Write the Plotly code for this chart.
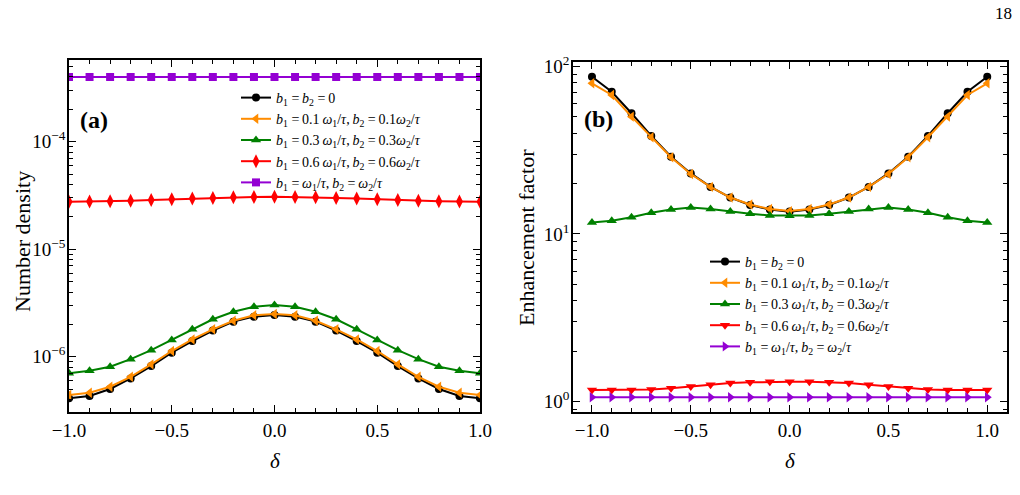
import plotly.graph_objects as go

delta = [-1.0, -0.9, -0.8, -0.7, -0.6, -0.5, -0.4, -0.3, -0.2, -0.1, 0.0,
         0.1, 0.2, 0.3, 0.4, 0.5, 0.6, 0.7, 0.8, 0.9, 1.0]

# Panel (a): number density
nd_b0 = [4.10e-7, 4.31e-7, 5.01e-7, 6.29e-7, 8.18e-7, 1.09e-6, 1.40e-6, 1.75e-6, 2.12e-6, 2.36e-6, 2.44e-6,
         2.36e-6, 2.12e-6, 1.75e-6, 1.40e-6, 1.09e-6, 8.18e-7, 6.29e-7, 5.01e-7, 4.31e-7, 4.10e-7]
nd_b01 = [4.40e-7, 4.63e-7, 5.26e-7, 6.51e-7, 8.50e-7, 1.13e-6, 1.45e-6, 1.80e-6, 2.16e-6, 2.43e-6, 2.50e-6,
          2.43e-6, 2.16e-6, 1.80e-6, 1.45e-6, 1.13e-6, 8.50e-7, 6.51e-7, 5.26e-7, 4.63e-7, 4.40e-7]
nd_b03 = [7.01e-7, 7.40e-7, 8.07e-7, 9.50e-7, 1.15e-6, 1.43e-6, 1.80e-6, 2.23e-6, 2.62e-6, 2.92e-6, 3.03e-6,
          2.92e-6, 2.62e-6, 2.23e-6, 1.80e-6, 1.43e-6, 1.15e-6, 9.50e-7, 8.07e-7, 7.40e-7, 7.01e-7]
nd_b06 = [2.77e-5, 2.78e-5, 2.80e-5, 2.83e-5, 2.87e-5, 2.91e-5, 2.96e-5, 3.00e-5, 3.04e-5, 3.06e-5, 3.07e-5,
          3.06e-5, 3.04e-5, 3.00e-5, 2.96e-5, 2.91e-5, 2.87e-5, 2.83e-5, 2.80e-5, 2.78e-5, 2.77e-5]
nd_b10 = [4.0e-4] * 21

# Panel (b): enhancement factor
ef_b0 = [86.9, 70.7, 52.6, 38.5, 28.9, 23.0, 19.1, 16.5, 14.9, 14.0, 13.6,
         14.0, 14.9, 16.5, 19.1, 23.0, 28.9, 38.5, 52.6, 70.7, 86.9]
ef_b01 = [79.4, 67.6, 50.2, 37.8, 28.7, 22.8, 19.1, 16.5, 15.0, 14.1, 13.7,
          14.1, 15.0, 16.5, 19.1, 22.8, 28.7, 37.8, 50.2, 67.6, 79.4]
ef_b03 = [11.7, 12.0, 12.6, 13.4, 14.0, 14.4, 14.1, 13.6, 13.2, 12.9, 12.85,
          12.9, 13.2, 13.6, 14.1, 14.4, 14.0, 13.4, 12.6, 12.0, 11.7]
ef_b06 = [1.17, 1.17, 1.17, 1.18, 1.20, 1.23, 1.26, 1.29, 1.30, 1.31, 1.31,
          1.31, 1.30, 1.29, 1.26, 1.23, 1.20, 1.18, 1.17, 1.17, 1.17]
ef_b10 = [1.06] * 21

x_ticks = [-1.0, -0.5, 0.0, 0.5, 1.0]
x_ticktext = ["−1.0", "−0.5", "0.0", "0.5", "1.0"]
ya_ticks = [1e-6, 1e-5, 1e-4]
ya_ticktext = ["10<sup>−6</sup>", "10<sup>−5</sup>", "10<sup>−4</sup>"]
yb_ticks = [1, 10, 100]
yb_ticktext = ["10<sup>0</sup>", "10<sup>1</sup>", "10<sup>2</sup>"]

S = "\u2009"  # thin space, to mimic math spacing
labels = [
    f"<i>b</i><sub>1</sub> ={S}<i>b</i><sub>2</sub> ={S}0",
    f"<i>b</i><sub>1</sub> ={S}0.1{S}<i>ω</i><sub>1</sub>/<i>τ</i>,{S}<i>b</i><sub>2</sub> ={S}0.1<i>ω</i><sub>2</sub>/<i>τ</i>",
    f"<i>b</i><sub>1</sub> ={S}0.3{S}<i>ω</i><sub>1</sub>/<i>τ</i>,{S}<i>b</i><sub>2</sub> ={S}0.3<i>ω</i><sub>2</sub>/<i>τ</i>",
    f"<i>b</i><sub>1</sub> ={S}0.6{S}<i>ω</i><sub>1</sub>/<i>τ</i>,{S}<i>b</i><sub>2</sub> ={S}0.6<i>ω</i><sub>2</sub>/<i>τ</i>",
    f"<i>b</i><sub>1</sub> ={S}<i>ω</i><sub>1</sub>/<i>τ</i>,{S}<i>b</i><sub>2</sub> ={S}<i>ω</i><sub>2</sub>/<i>τ</i>",
]
colors = ["black", "#ff8c00", "#008000", "#ff0000", "#9400d3"]
sym_a = ["circle", "triangle-left", "triangle-up", "diamond-tall", "square"]
sym_b = ["circle", "triangle-left", "triangle-up", "triangle-down", "triangle-right"]
msize_a = [8, 9, 9, 10, 8]
msize_b = [8, 9, 9, 9, 9]

FONT = "Liberation Serif, Times New Roman, DejaVu Serif, serif"
fig = go.Figure()

for i, ys in enumerate([nd_b0, nd_b01, nd_b03, nd_b06, nd_b10]):
    fig.add_trace(go.Scatter(
        x=delta, y=ys, mode="lines+markers", name=labels[i],
        line=dict(color=colors[i], width=2),
        marker=dict(symbol=sym_a[i], size=msize_a[i], color=colors[i]),
        xaxis="x", yaxis="y", legend="legend"))

for i, ys in enumerate([ef_b0, ef_b01, ef_b03, ef_b06, ef_b10]):
    fig.add_trace(go.Scatter(
        x=delta, y=ys, mode="lines+markers", name=labels[i],
        line=dict(color=colors[i], width=2),
        marker=dict(symbol=sym_b[i], size=msize_b[i], color=colors[i]),
        xaxis="x2", yaxis="y2", legend="legend2"))

axis_common = dict(showline=True, linecolor="black", linewidth=1.5, mirror="allticks",
                   ticks="inside", ticklen=7, tickwidth=1.2, tickcolor="black",
                   showgrid=False, zeroline=False, automargin=False,
                   tickfont=dict(family=FONT, size=19, color="black"))
minor_log = dict(ticks="inside", ticklen=4, tickcolor="black", tickwidth=1, dtick="D1")

xa = dict(axis_common, tickmode="array", tickvals=x_ticks, ticktext=x_ticktext,
          minor=dict(dtick=0.1, tick0=-1.0, ticks="inside", ticklen=4, tickcolor="black", tickwidth=1))


def ann(text, x, y, size, angle=0):
    return dict(text=text, x=x/1020, y=1-y/495, xref="paper", yref="paper",
                xanchor="center", yanchor="middle", textangle=angle,
                showarrow=False, font=dict(family=FONT, size=size, color="black"))


fig.update_layout(
    width=1020, height=495,
    margin=dict(l=0, r=0, t=0, b=0),
    paper_bgcolor="white", plot_bgcolor="white",
    font=dict(family=FONT, color="black"),
    xaxis=dict(xa, range=[-1.0, 1.0], domain=[69/1020, 480/1020], anchor="y"),
    yaxis=dict(axis_common, type="log", range=[-6.514, -3.24],
               tickmode="array", tickvals=ya_ticks, ticktext=ya_ticktext,
               ticklabelstandoff=-2,
               domain=[1-412/495, 1-60/495], anchor="x", minor=minor_log),
    xaxis2=dict(xa, range=[-1.096, 1.10], domain=[573/1020, 1007/1020], anchor="y2"),
    yaxis2=dict(axis_common, type="log", range=[-0.063, 2.027],
                tickmode="array", tickvals=yb_ticks, ticktext=yb_ticktext,
                ticklabelstandoff=-2,
                domain=[1-412/495, 1-62/495], anchor="x2", minor=minor_log),
    legend=dict(x=236/1020, y=1-82/495, xanchor="left", yanchor="top",
                bgcolor="rgba(0,0,0,0)", font=dict(family=FONT, size=14, color="black"),
                tracegroupgap=0, itemwidth=30),
    legend2=dict(x=705/1020, y=1-246/495, xanchor="left", yanchor="top",
                 bgcolor="rgba(0,0,0,0)", font=dict(family=FONT, size=14, color="black"),
                 tracegroupgap=0, itemwidth=30),
    annotations=[
        ann("<b>(a)</b>", 94, 120, 24),
        ann("<b>(b)</b>", 598, 119, 24),
        ann("18", 1003, 14, 17),
        ann("Number density", 22, 242, 22, -90),
        ann("Enhancement factor", 526, 238, 22, -90),
        ann("<i>δ</i>", 275, 461, 21),
        ann("<i>δ</i>", 790, 461, 21),
    ],
)

fig.write_html("out.html")
